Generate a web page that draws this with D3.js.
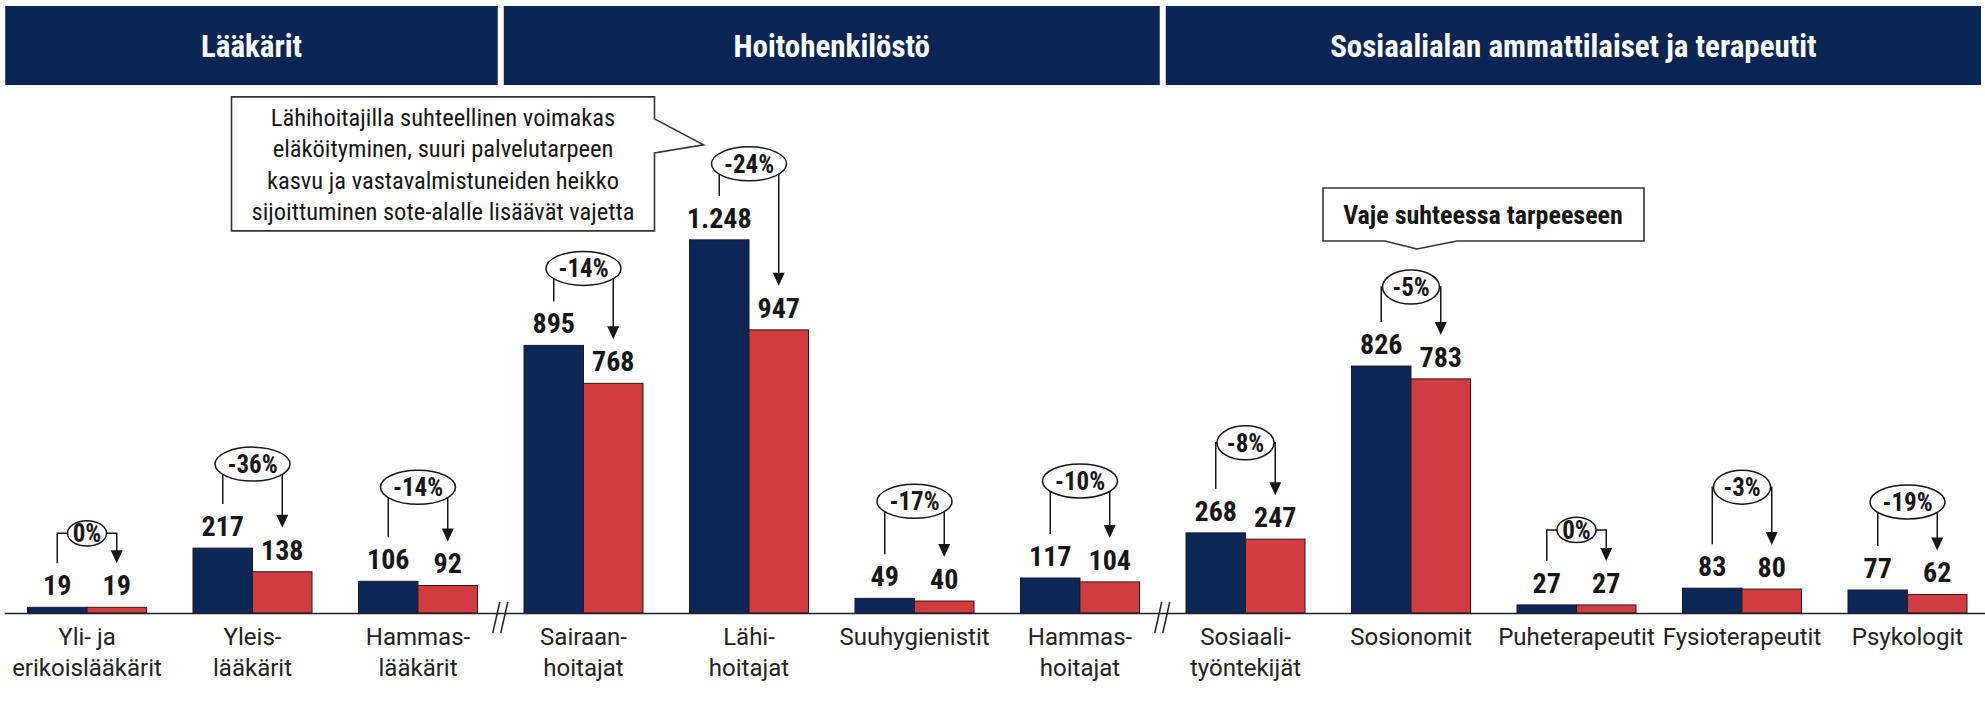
<!DOCTYPE html>
<html><head><meta charset="utf-8">
<script src="https://cdn.jsdelivr.net/npm/d3@7"></script>
<style>
html,body{margin:0;padding:0;background:#fff;}
svg{display:block;}
</style></head>
<body>
<svg id="chart" width="1985" height="708"></svg>
<script>
// ---------- data ----------
const categories = ["Yli- ja\nerikoislääkärit","Yleis-\nlääkärit","Hammas-\nlääkärit","Sairaan-\nhoitajat","Lähi-\nhoitajat","Suuhygienistit","Hammas-\nhoitajat","Sosiaali-\ntyöntekijät","Sosionomit","Puheterapeutit","Fysioterapeutit","Psykologit"];
const seriesA = [19, 217, 106, 895, 1248, 49, 117, 268, 826, 27, 83, 77];   // blue bars
const seriesB = [19, 138, 92, 768, 947, 40, 104, 247, 783, 27, 80, 62];     // red bars
const changeLabels = ["0%","-36%","-14%","-14%","-24%","-17%","-10%","-8%","-5%","0%","-3%","-19%"];
const groupNames = ["Lääkärit","Hoitohenkilöstö","Sosiaalialan ammattilaiset ja terapeutit"];
const groupSizes = [3, 4, 5];
const callout1Lines = ["Lähihoitajilla suhteellinen voimakas","eläköityminen, suuri palvelutarpeen","kasvu ja vastavalmistuneiden heikko","sijoittuminen sote-alalle lisäävät vajetta"];
const callout2Text = "Vaje suhteessa tarpeeseen";

// ---------- layout (annotation lift above blue bar) ----------
const bracketLift = [74, 84, 94, 77, 76, 97, 97, 90, 79, 75, 101, 88];

const BLUE = "#0c2756", RED = "#d13c40", HEAD = "#082553", INK = "#161616";
const FONT = '"Roboto Condensed","Liberation Sans Narrow","Arial Narrow",Roboto,sans-serif';
const WFONT = 'Roboto,"Liberation Sans",Arial,sans-serif';
const HFONT = '"Liberation Sans Narrow","Arial Narrow","Roboto Condensed",Roboto,sans-serif';

const svg = d3.select("#chart");
const baseY = 613;
const x = d3.scaleBand().domain(d3.range(categories.length))
  .range([4.25, 1990.25]).paddingInner(0.281).paddingOuter(0.1405);
const xs = d3.scaleBand().domain(["a","b"]).range([0, x.bandwidth()]);
const y = d3.scaleLinear().domain([0, 1250]).range([baseY, baseY - 0.299 * 1250]);
const fmt = d3.formatLocale({decimal: ",", thousands: ".", grouping: [3], currency: ["", "€"]}).format(",d");

const rows = categories.map((c, i) => ({i, c, a: seriesA[i], b: seriesB[i], pct: changeLabels[i], lift: bracketLift[i]}));

// ---------- headers ----------
const step = x.step(), r0 = x.range()[0];
let start = 0;
const hdr = svg.append("g");
groupNames.forEach((name, gi) => {
  const b0 = r0 + start * step, b1 = r0 + (start + groupSizes[gi]) * step;
  const x0 = gi === 0 ? b0 + 1 : b0 + 3;
  const x1 = gi === groupNames.length - 1 ? 1981 : b1 - 3;
  hdr.append("rect").attr("x", x0).attr("y", 6).attr("width", x1 - x0).attr("height", 79).attr("fill", HEAD);
  hdr.append("text").attr("x", (x0 + x1) / 2).attr("y", 45.5).attr("dy", "0.36em")
    .attr("text-anchor", "middle").attr("fill", "#fff").attr("font-family", HFONT)
    .attr("font-weight", "bold").attr("font-size", 31).text(name);
  start += groupSizes[gi];
});

// ---------- bars ----------
const grp = svg.append("g").selectAll("g.cat").data(rows).join("g")
  .attr("class", "cat").attr("transform", d => `translate(${x(d.i)},0)`);
grp.append("rect").attr("x", xs("a")).attr("y", d => y(d.a)).attr("width", xs.bandwidth())
  .attr("height", d => baseY - y(d.a)).attr("fill", BLUE).attr("stroke", "#1b1b2b").attr("stroke-width", 1);
grp.append("rect").attr("x", xs("b")).attr("y", d => y(d.b)).attr("width", xs.bandwidth())
  .attr("height", d => baseY - y(d.b)).attr("fill", RED).attr("stroke", "#2a1a1a").attr("stroke-width", 1);
grp.append("text").attr("x", xs("a") + xs.bandwidth() / 2).attr("y", d => y(d.a) - 12)
  .attr("text-anchor", "middle").attr("font-family", FONT).attr("font-weight", "bold")
  .attr("font-size", 28).attr("fill", INK).text(d => fmt(d.a));
grp.append("text").attr("x", xs("b") + xs.bandwidth() / 2).attr("y", d => y(d.b) - 12)
  .attr("text-anchor", "middle").attr("font-family", FONT).attr("font-weight", "bold")
  .attr("font-size", 28).attr("fill", INK).text(d => fmt(d.b));

// ---------- axis ----------
const ax = svg.append("g").attr("transform", `translate(0,${baseY})`)
  .call(d3.axisBottom(x).tickSize(0).tickSizeOuter(0).tickFormat(""));
ax.select(".domain").attr("stroke", "#222").attr("stroke-width", 1.6);
ax.selectAll(".tick text").remove();
ax.selectAll(".tick").append("text")
  .attr("text-anchor", "middle").attr("font-family", WFONT).attr("font-size", 24).attr("fill", "#222")
  .each(function(i) {
    const lines = categories[i].split("\n");
    d3.select(this).selectAll("tspan").data(lines).join("tspan")
      .attr("x", 0).attr("y", (l, k) => 32 + k * 31).text(l => l);
  });

// break markers between groups
let acc = 0;
groupSizes.slice(0, -1).forEach(n => {
  acc += n;
  const bx = r0 + acc * step;
  [-4, 4].forEach(o => {
    svg.append("line").attr("x1", bx + o - 4).attr("y1", baseY + 20).attr("x2", bx + o + 3).attr("y2", baseY - 11)
      .attr("stroke", "#222").attr("stroke-width", 1.5);
  });
});

// ---------- change annotations ----------
const ann = svg.append("g");
const geo = [];
rows.forEach(d => {
  const cx = x(d.i) + x.bandwidth() / 2;
  const ax0 = x(d.i) + xs("a") + xs.bandwidth() / 2;
  const bx0 = x(d.i) + xs("b") + xs.bandwidth() / 2;
  const cy = y(d.a) - d.lift;
  const rx = 9 * d.pct.length + 1.5;
  const ry = Math.min(17, rx * 0.65);
  geo[d.i] = {cx, cy, rx, ry};
  const lineBottom = y(d.a) - 44;
  let pL, pR;
  if (Math.abs(ax0 - cx) < rx) {
    const yy = cy + ry * Math.sqrt(1 - ((ax0 - cx) / rx) ** 2);
    pL = `M${ax0},${lineBottom}V${yy}`;
  } else pL = `M${ax0},${lineBottom}V${cy}H${cx - rx}`;
  const tipY = y(d.b) - 44, hh = 13, hw = 6;
  if (Math.abs(bx0 - cx) < rx) {
    const yy = cy + ry * Math.sqrt(1 - ((bx0 - cx) / rx) ** 2);
    pR = `M${bx0},${yy}V${tipY - hh + 1}`;
  } else pR = `M${cx + rx},${cy}H${bx0}V${tipY - hh + 1}`;
  ann.append("path").attr("d", pL).attr("fill", "none").attr("stroke", INK).attr("stroke-width", 1.5);
  ann.append("path").attr("d", pR).attr("fill", "none").attr("stroke", INK).attr("stroke-width", 1.5);
  ann.append("path").attr("d", `M${bx0 - hw},${tipY - hh}L${bx0 + hw},${tipY - hh}L${bx0},${tipY}Z`).attr("fill", INK);
  ann.append("ellipse").attr("cx", cx).attr("cy", cy).attr("rx", rx).attr("ry", ry)
    .attr("fill", "#fff").attr("stroke", INK).attr("stroke-width", 1.5);
  ann.append("text").attr("x", cx).attr("y", cy).attr("dy", "0.36em").attr("text-anchor", "middle")
    .attr("font-family", FONT).attr("font-weight", "bold").attr("font-size", 25).attr("fill", INK).text(d.pct);
});

// ---------- callout 1 (Lähihoitajat) ----------
{
  const g = geo[4];
  const tip = [g.cx - g.rx - 8, g.cy - 19];
  const right = tip[0] - 49, top = tip[1] - 48, bottom = top + 134, left = right - 423;
  svg.append("path")
    .attr("d", `M${left},${top}H${right}V${top + 22}L${tip[0]},${tip[1]}L${right},${top + 56}V${bottom}H${left}Z`)
    .attr("fill", "#fff").attr("stroke", "#333").attr("stroke-width", 1.6);
  const t = svg.append("text").attr("text-anchor", "middle").attr("font-family", FONT)
    .attr("font-size", 24.5).attr("fill", INK);
  t.selectAll("tspan").data(callout1Lines).join("tspan")
    .attr("x", (left + right) / 2).attr("y", (l, k) => top + 20 + k * 31.5).attr("dy", "0.36em").text(l => l);
}

// ---------- callout 2 (Sosionomit) ----------
{
  const g = geo[8];
  const tip = [g.cx + 6, g.cy - 38];
  const bottom = tip[1] - 8, top = bottom - 53, cxb = g.cx + 72, left = cxb - 160, right = cxb + 161;
  svg.append("path")
    .attr("d", `M${left},${top}H${right}V${bottom}H${tip[0] + 40}L${tip[0]},${tip[1]}L${tip[0] - 32},${bottom}H${left}Z`)
    .attr("fill", "#fff").attr("stroke", "#333").attr("stroke-width", 1.6);
  svg.append("text").attr("x", cxb).attr("y", (top + bottom) / 2).attr("dy", "0.36em")
    .attr("text-anchor", "middle").attr("font-family", FONT).attr("font-weight", "bold")
    .attr("font-size", 26).attr("fill", INK).text(callout2Text);
}
</script>
</body></html>
